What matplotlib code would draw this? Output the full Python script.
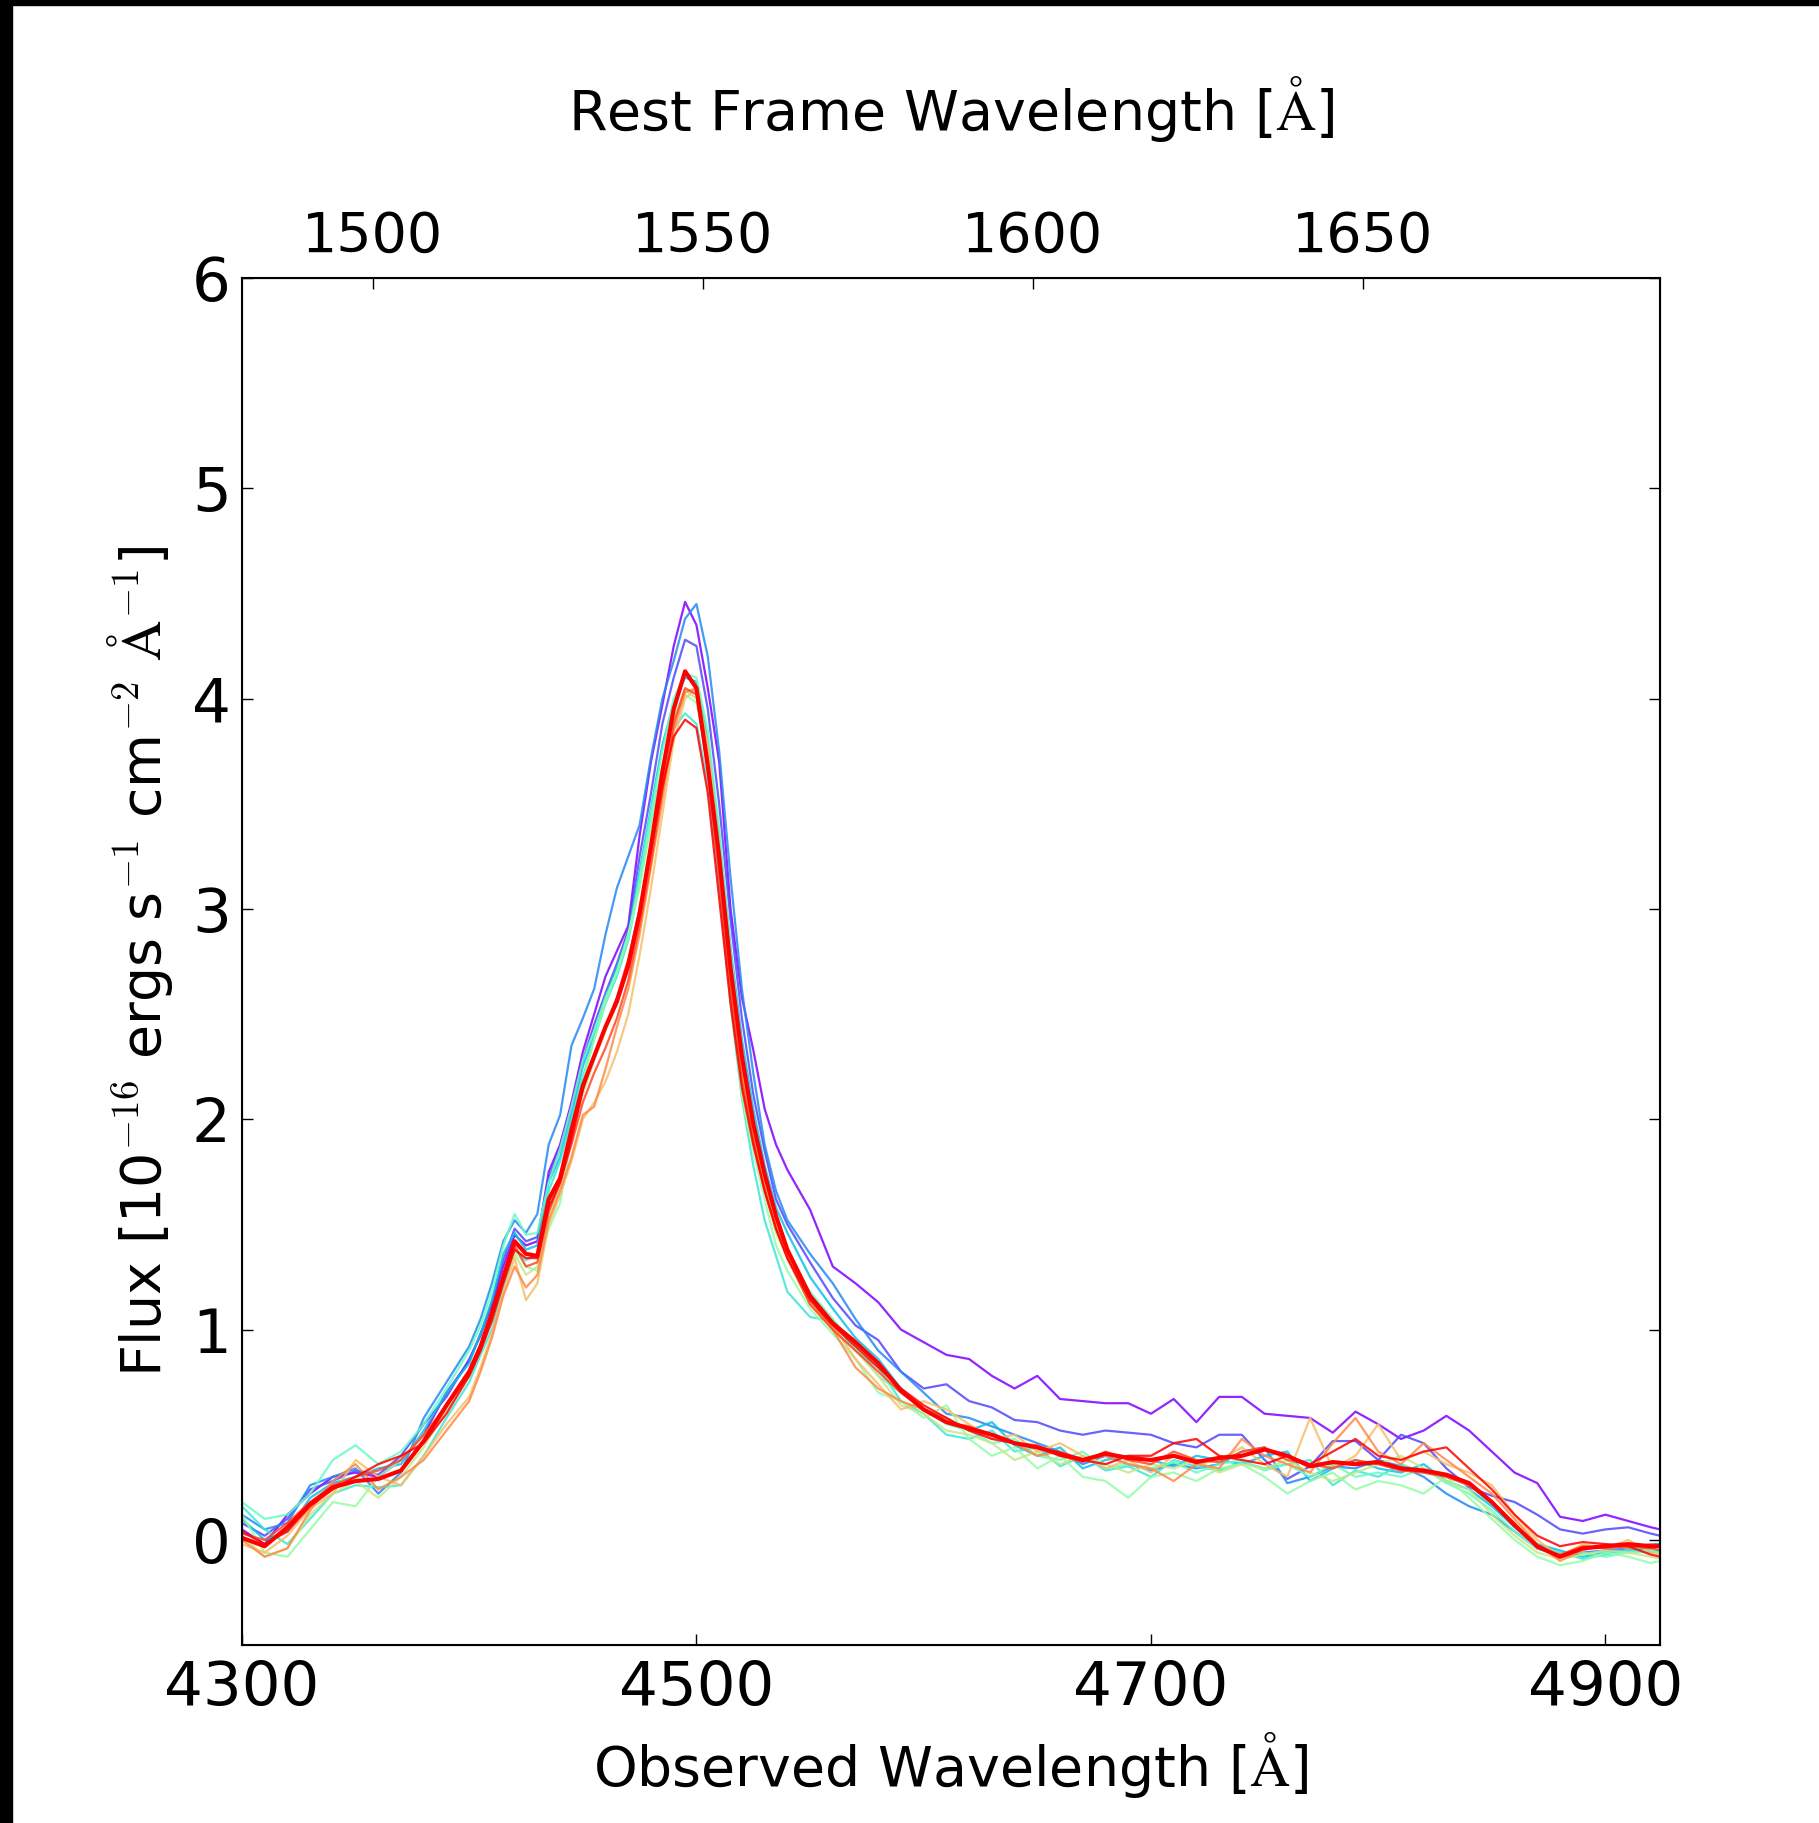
import matplotlib
matplotlib.use('Agg')
import matplotlib.pyplot as plt
from matplotlib.patches import Rectangle
import numpy as np

plt.rcParams['mathtext.fontset'] = 'cm'
plt.rcParams['font.family'] = ['DejaVu Sans']

# 观测波长网格 (Å)
wave = [4300, 4310, 4320, 4330, 4340, 4350, 4360, 4370, 4380, 4390, 4400,
        4405, 4410, 4415, 4420, 4425, 4430, 4435, 4440, 4445, 4450, 4455, 4460,
        4465, 4470, 4475, 4480, 4485, 4490, 4495, 4500, 4505, 4510, 4515, 4520,
        4525, 4530, 4535,
        4540, 4550, 4560, 4570, 4580, 4590, 4600, 4610, 4620, 4630, 4640, 4650,
        4660, 4670, 4680, 4690, 4700, 4710, 4720, 4730, 4740, 4750, 4760, 4770,
        4780, 4790, 4800, 4810, 4820, 4830, 4840, 4850, 4860, 4870, 4880, 4890,
        4900, 4910, 4920, 4924]

redshift = 1.905

# 各历元光谱 (10^-16 erg/s/cm2/Å)
flux_0 = [0.05, -0.02, 0.12, 0.22, 0.30, 0.32, 0.30, 0.38, 0.50, 0.70, 0.85,
          0.98, 1.12, 1.30, 1.45, 1.40, 1.42, 1.75, 1.88, 2.08, 2.32, 2.50, 2.68,
          2.80, 2.92, 3.35, 3.70, 3.97, 4.25, 4.46, 4.35, 4.05, 3.70, 3.00, 2.58,
          2.33, 2.05, 1.88,
          1.76, 1.57, 1.30, 1.22, 1.13, 1.00, 0.94, 0.88, 0.86, 0.78, 0.72, 0.78,
          0.67, 0.66, 0.65, 0.65, 0.60, 0.67, 0.56, 0.68, 0.68, 0.60, 0.59, 0.58,
          0.51, 0.61, 0.55, 0.48, 0.52, 0.59, 0.52, 0.42, 0.32, 0.27, 0.11, 0.09,
          0.12, 0.09, 0.06, 0.05]
flux_1 = [0.08, 0.02, 0.10, 0.24, 0.28, 0.33, 0.31, 0.40, 0.55, 0.68, 0.86,
          0.97, 1.13, 1.33, 1.48, 1.42, 1.44, 1.72, 1.86, 2.05, 2.28, 2.45, 2.60,
          2.74, 2.90, 3.25, 3.55, 3.88, 4.10, 4.28, 4.25, 3.95, 3.50, 2.95, 2.48,
          2.12, 1.85, 1.62,
          1.50, 1.32, 1.15, 1.02, 0.95, 0.80, 0.72, 0.74, 0.66, 0.63, 0.57, 0.56,
          0.52, 0.50, 0.52, 0.51, 0.50, 0.46, 0.44, 0.50, 0.50, 0.38, 0.29, 0.35,
          0.47, 0.47, 0.38, 0.50, 0.46, 0.34, 0.25, 0.21, 0.18, 0.12, 0.05, 0.03,
          0.05, 0.06, 0.03, 0.02]
flux_2 = [0.12, 0.05, 0.08, 0.26, 0.30, 0.34, 0.22, 0.32, 0.58, 0.75, 0.92,
          1.05, 1.22, 1.42, 1.52, 1.46, 1.55, 1.88, 2.02, 2.35, 2.48, 2.62, 2.88,
          3.10, 3.25, 3.40, 3.72, 4.00, 4.18, 4.38, 4.45, 4.20, 3.75, 3.15, 2.62,
          2.22, 1.88, 1.66,
          1.52, 1.36, 1.22, 1.05, 0.90, 0.80, 0.70, 0.60, 0.58, 0.54, 0.50, 0.46,
          0.42, 0.36, 0.40, 0.36, 0.33, 0.36, 0.34, 0.36, 0.42, 0.44, 0.27, 0.30,
          0.35, 0.34, 0.38, 0.35, 0.30, 0.22, 0.16, 0.12, 0.04, -0.04, -0.08, -0.06,
          -0.05, -0.04, -0.02, -0.02]
flux_3 = [0.10, 0.00, 0.04, 0.20, 0.27, 0.30, 0.34, 0.36, 0.52, 0.70, 0.84,
          0.98, 1.14, 1.36, 1.46, 1.38, 1.40, 1.70, 1.82, 2.02, 2.25, 2.40, 2.58,
          2.72, 2.88, 3.18, 3.48, 3.78, 3.98, 4.10, 4.08, 3.80, 3.35, 2.82, 2.38,
          2.05, 1.78, 1.58,
          1.46, 1.25, 1.10, 0.96, 0.86, 0.72, 0.62, 0.58, 0.52, 0.56, 0.45, 0.40,
          0.44, 0.34, 0.38, 0.40, 0.38, 0.35, 0.40, 0.38, 0.36, 0.40, 0.42, 0.28,
          0.34, 0.38, 0.34, 0.32, 0.36, 0.28, 0.24, 0.16, 0.06, -0.02, -0.05, -0.08,
          -0.06, -0.05, -0.04, -0.03]
flux_4 = [0.16, 0.05, -0.02, 0.10, 0.22, 0.26, 0.25, 0.26, 0.40, 0.58, 0.75,
          0.88, 1.00, 1.20, 1.38, 1.33, 1.36, 1.66, 1.80, 2.00, 2.20, 2.38, 2.55,
          2.68, 2.85, 3.12, 3.42, 3.68, 3.86, 3.93, 3.88, 3.60, 3.10, 2.55, 2.10,
          1.78, 1.52, 1.35,
          1.18, 1.06, 1.04, 0.90, 0.82, 0.66, 0.60, 0.50, 0.48, 0.52, 0.42, 0.44,
          0.35, 0.40, 0.33, 0.35, 0.30, 0.38, 0.35, 0.33, 0.37, 0.34, 0.36, 0.38,
          0.26, 0.33, 0.30, 0.36, 0.32, 0.30, 0.26, 0.17, 0.06, -0.03, -0.06, -0.09,
          -0.07, -0.05, -0.06, -0.05]
flux_5 = [0.18, 0.10, 0.12, 0.22, 0.38, 0.45, 0.36, 0.42, 0.55, 0.72, 0.90,
          1.02, 1.18, 1.40, 1.55, 1.45, 1.46, 1.70, 1.86, 2.06, 2.28, 2.42, 2.58,
          2.70, 2.86, 3.15, 3.46, 3.75, 4.00, 4.12, 4.10, 3.85, 3.38, 2.80, 2.32,
          1.98, 1.70, 1.50,
          1.35, 1.18, 1.05, 0.92, 0.78, 0.70, 0.62, 0.55, 0.52, 0.46, 0.48, 0.40,
          0.38, 0.42, 0.34, 0.36, 0.34, 0.37, 0.32, 0.36, 0.38, 0.33, 0.36, 0.30,
          0.36, 0.30, 0.32, 0.30, 0.34, 0.27, 0.22, 0.14, 0.04, -0.04, -0.07, -0.06,
          -0.08, -0.06, -0.05, -0.06]
flux_6 = [0.12, -0.06, -0.08, 0.05, 0.18, 0.16, 0.30, 0.38, 0.50, 0.62, 0.78,
          0.90, 1.05, 1.25, 1.38, 1.30, 1.28, 1.48, 1.60, 1.92, 2.18, 2.38, 2.56,
          2.70, 2.88, 3.10, 3.40, 3.68, 3.90, 4.02, 3.98, 3.72, 3.22, 2.62, 2.10,
          1.85, 1.62, 1.40,
          1.28, 1.10, 0.98, 0.86, 0.70, 0.66, 0.58, 0.64, 0.48, 0.40, 0.44, 0.34,
          0.40, 0.30, 0.28, 0.20, 0.30, 0.32, 0.28, 0.34, 0.36, 0.30, 0.22, 0.28,
          0.32, 0.24, 0.28, 0.26, 0.22, 0.30, 0.20, 0.10, 0.00, -0.08, -0.12, -0.10,
          -0.06, -0.08, -0.11, -0.10]
flux_7 = [0.02, -0.08, -0.04, 0.12, 0.22, 0.28, 0.20, 0.30, 0.44, 0.62, 0.80,
          0.92, 1.06, 1.24, 1.36, 1.26, 1.30, 1.55, 1.68, 1.92, 2.12, 2.28, 2.42,
          2.55, 2.72, 2.98, 3.30, 3.62, 3.90, 4.04, 4.00, 3.70, 3.20, 2.62, 2.18,
          1.88, 1.66, 1.46,
          1.34, 1.12, 1.00, 0.90, 0.78, 0.64, 0.60, 0.52, 0.50, 0.46, 0.38, 0.42,
          0.36, 0.40, 0.36, 0.32, 0.36, 0.34, 0.38, 0.32, 0.36, 0.34, 0.38, 0.32,
          0.28, 0.32, 0.36, 0.40, 0.34, 0.28, 0.24, 0.12, 0.02, -0.06, -0.09, -0.07,
          -0.05, -0.06, -0.08, -0.09]
flux_8 = [-0.02, -0.06, 0.02, 0.15, 0.22, 0.38, 0.30, 0.26, 0.40, 0.55, 0.68,
          0.82, 0.98, 1.18, 1.34, 1.14, 1.22, 1.50, 1.64, 1.80, 2.00, 2.08, 2.18,
          2.32, 2.50, 2.78, 3.10, 3.45, 3.80, 4.00, 4.05, 3.78, 3.28, 2.70, 2.25,
          1.95, 1.72, 1.50,
          1.36, 1.12, 1.02, 0.86, 0.74, 0.62, 0.66, 0.62, 0.55, 0.48, 0.50, 0.42,
          0.46, 0.40, 0.34, 0.38, 0.32, 0.40, 0.36, 0.38, 0.44, 0.36, 0.30, 0.58,
          0.34, 0.40, 0.55, 0.38, 0.42, 0.36, 0.32, 0.26, 0.12, 0.00, -0.08, -0.02,
          -0.04, 0.00, -0.06, -0.07]
flux_9 = [0.00, -0.08, -0.04, 0.14, 0.28, 0.36, 0.24, 0.30, 0.38, 0.52, 0.66,
          0.80, 0.96, 1.16, 1.30, 1.20, 1.26, 1.52, 1.66, 1.82, 2.02, 2.06, 2.24,
          2.44, 2.62, 2.88, 3.20, 3.52, 3.85, 4.03, 4.05, 3.72, 3.22, 2.66, 2.22,
          1.92, 1.68, 1.48,
          1.36, 1.15, 1.00, 0.82, 0.72, 0.66, 0.62, 0.58, 0.52, 0.50, 0.46, 0.40,
          0.42, 0.38, 0.40, 0.36, 0.34, 0.28, 0.36, 0.34, 0.48, 0.40, 0.36, 0.32,
          0.46, 0.58, 0.42, 0.36, 0.46, 0.38, 0.30, 0.22, 0.10, -0.02, -0.10, -0.05,
          -0.02, -0.04, -0.02, -0.03]
flux_10 = [0.03, 0.00, 0.08, 0.18, 0.26, 0.30, 0.33, 0.38, 0.50, 0.64, 0.78,
           0.90, 1.06, 1.24, 1.40, 1.30, 1.32, 1.56, 1.70, 1.88, 2.08, 2.22, 2.34,
           2.48, 2.66, 2.92, 3.22, 3.56, 3.88, 4.05, 4.02, 3.66, 3.15, 2.60, 2.18,
           1.90, 1.66, 1.48,
           1.34, 1.12, 1.00, 0.90, 0.80, 0.70, 0.62, 0.56, 0.54, 0.50, 0.46, 0.45,
           0.40, 0.37, 0.42, 0.38, 0.36, 0.42, 0.38, 0.37, 0.42, 0.44, 0.38, 0.36,
           0.34, 0.38, 0.36, 0.33, 0.32, 0.30, 0.26, 0.18, 0.08, -0.04, -0.07, -0.03,
           -0.04, -0.03, -0.04, -0.05]
flux_11 = [0.04, -0.02, 0.04, 0.16, 0.24, 0.30, 0.36, 0.40, 0.46, 0.60, 0.78,
           0.90, 1.04, 1.22, 1.38, 1.34, 1.34, 1.58, 1.70, 1.90, 2.14, 2.30, 2.44,
           2.58, 2.76, 3.00, 3.28, 3.58, 3.82, 3.90, 3.86, 3.55, 3.05, 2.55, 2.15,
           1.88, 1.66, 1.48,
           1.34, 1.14, 1.02, 0.92, 0.82, 0.72, 0.64, 0.58, 0.52, 0.48, 0.46, 0.44,
           0.40, 0.38, 0.36, 0.40, 0.40, 0.46, 0.48, 0.40, 0.38, 0.36, 0.40, 0.36,
           0.42, 0.48, 0.40, 0.38, 0.42, 0.44, 0.34, 0.24, 0.12, 0.02, -0.03, -0.01,
           -0.02, -0.03, -0.07, -0.08]
# 平均光谱 (粗红线)
flux_mean = [0.01, -0.03, 0.06, 0.17, 0.25, 0.28, 0.29, 0.33, 0.47, 0.64, 0.80,
             0.92, 1.08, 1.25, 1.42, 1.36, 1.35, 1.62, 1.72, 1.95, 2.16, 2.30, 2.44,
             2.56, 2.73, 2.98, 3.30, 3.65, 3.95, 4.13, 4.05, 3.68, 3.25, 2.72, 2.30,
             1.98, 1.74, 1.54,
             1.38, 1.16, 1.03, 0.94, 0.84, 0.71, 0.62, 0.56, 0.53, 0.50, 0.46, 0.44,
             0.41, 0.38, 0.41, 0.39, 0.38, 0.40, 0.37, 0.39, 0.40, 0.43, 0.40, 0.35,
             0.37, 0.36, 0.37, 0.34, 0.33, 0.31, 0.27, 0.18, 0.07, -0.03, -0.08, -0.04,
             -0.03, -0.02, -0.03, -0.03]

spectra = [flux_0, flux_1, flux_2, flux_3, flux_4, flux_5,
           flux_6, flux_7, flux_8, flux_9, flux_10, flux_11]

fig = plt.figure(figsize=(18.19, 18.23), dpi=100)
ax = fig.add_axes([0.1330, 0.0976, 0.9126 - 0.1330, 0.8475 - 0.0976])

colors = plt.cm.rainbow(np.linspace(0, 1, len(spectra)))
for flux, c in zip(spectra, colors):
    ax.plot(wave, flux, color=c, lw=1.6, alpha=0.85)
ax.plot(wave, flux_mean, color='red', lw=3)

ax.set_xlim(4300, 4924)
ax.set_ylim(-0.5, 6)
ax.set_xticks([4300, 4500, 4700, 4900])
ax.set_yticks([0, 1, 2, 3, 4, 5, 6])
ax.tick_params(direction='in', length=8, width=1, labelsize=44,
               top=False, right=True, pad=10)
ax.tick_params(axis='y', pad=8)
for sp in ax.spines.values():
    sp.set_linewidth(1.5)

ax.set_xlabel(r'Observed Wavelength [$\mathrm{\AA}$]', fontsize=40, labelpad=9)
ax.set_ylabel(r'Flux [10$^{-16}$ ergs s$^{-1}$ cm$^{-2}$ $\mathrm{\AA}^{-1}$]',
              fontsize=40, labelpad=12)

# 顶部：静止系波长
ax2 = ax.twiny()
ax2.set_xlim(4300 / (1 + redshift), 4924 / (1 + redshift))
ax2.set_xticks([1500, 1550, 1600, 1650])
ax2.tick_params(direction='in', length=8, width=1, labelsize=40, pad=10)
ax2.set_xlabel(r'Rest Frame Wavelength [$\mathrm{\AA}$]', fontsize=40, labelpad=58)

# 截图边缘的黑框
fig.add_artist(Rectangle((0, 0), 0.0066, 1, transform=fig.transFigure,
                         color='black', zorder=10))
fig.add_artist(Rectangle((0, 0.9973), 1, 0.0027, transform=fig.transFigure,
                         color='black', zorder=10))

plt.savefig('out.png', dpi=100)
